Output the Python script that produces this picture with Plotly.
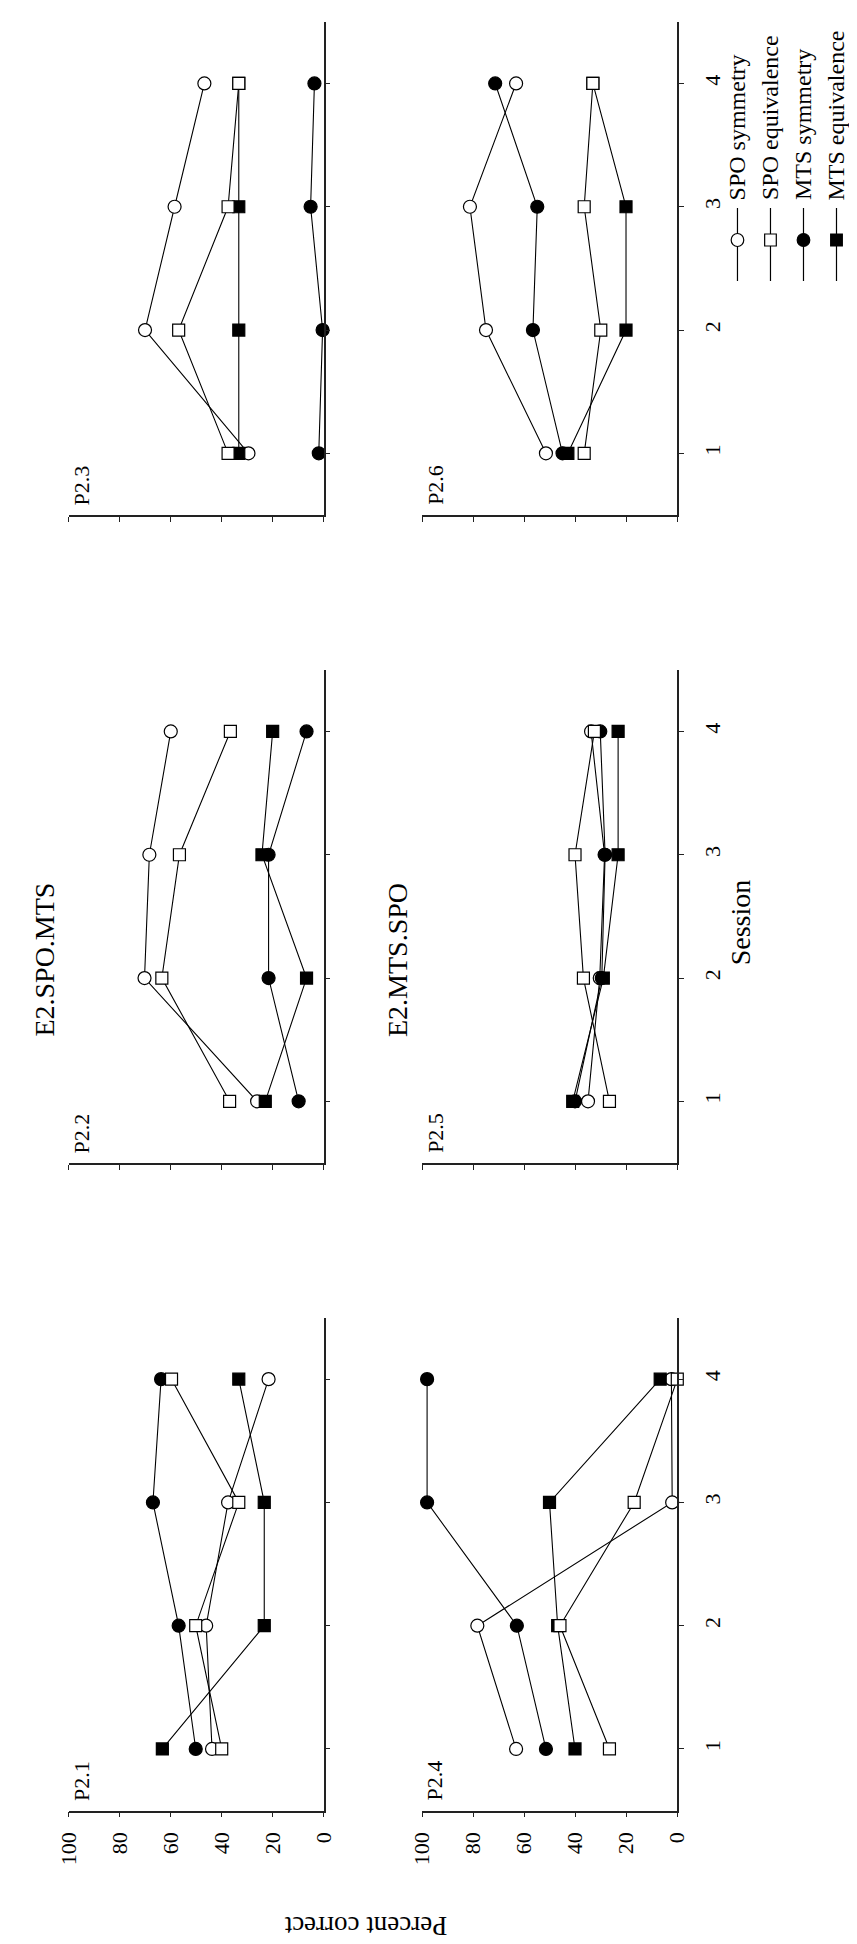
import plotly.graph_objects as go

W, H = 857, 1944

# ---------------- data ----------------
sessions = [1, 2, 3, 4]
series_names = ["SPO symmetry", "SPO equivalence", "MTS symmetry", "MTS equivalence"]
percent_ticks = [0, 20, 40, 60, 80, 100]
panel_labels = ["P2.1", "P2.2", "P2.3", "P2.4", "P2.5", "P2.6"]
group_titles = ["E2.SPO.MTS", "E2.MTS.SPO"]

p21_spo_sym = [43.8, 46.1, 37.5, 21.6]
p21_spo_eq = [40.0, 50.2, 33.3, 59.7]
p21_mts_sym = [50.2, 56.9, 67.0, 63.8]
p21_mts_eq = [63.3, 23.3, 23.3, 33.3]

p22_spo_sym = [26.1, 70.3, 68.4, 60.0]
p22_spo_eq = [36.9, 63.5, 56.6, 36.6]
p22_mts_sym = [9.8, 21.6, 21.6, 6.7]
p22_mts_eq = [22.9, 6.7, 24.2, 20.0]

p23_spo_sym = [29.5, 70.1, 58.5, 46.8]
p23_spo_eq = [37.5, 56.9, 37.5, 33.3]
p23_mts_sym = [1.9, 0.4, 5.1, 3.6]
p23_mts_eq = [33.3, 33.3, 33.3, 33.3]

p24_spo_sym = [63.2, 78.4, 2.0, 2.3]
p24_spo_eq = [26.6, 46.0, 16.9, 0.0]
p24_mts_sym = [51.5, 62.9, 98.1, 98.1]
p24_mts_eq = [40.1, 46.9, 50.1, 6.7]

p25_spo_sym = [35.0, 30.4, 28.5, 33.8]
p25_spo_eq = [26.6, 36.8, 40.1, 32.5]
p25_mts_sym = [40.1, 29.6, 28.3, 30.2]
p25_mts_eq = [41.0, 29.0, 23.2, 23.2]

p26_spo_sym = [51.5, 75.0, 81.3, 63.2]
p26_spo_eq = [36.5, 30.0, 36.5, 33.1]
p26_mts_sym = [45.0, 56.6, 54.9, 71.4]
p26_mts_eq = [42.9, 20.1, 20.1, 33.1]

panel_data = {
    "P2.1": [p21_spo_sym, p21_spo_eq, p21_mts_sym, p21_mts_eq],
    "P2.2": [p22_spo_sym, p22_spo_eq, p22_mts_sym, p22_mts_eq],
    "P2.3": [p23_spo_sym, p23_spo_eq, p23_mts_sym, p23_mts_eq],
    "P2.4": [p24_spo_sym, p24_spo_eq, p24_mts_sym, p24_mts_eq],
    "P2.5": [p25_spo_sym, p25_spo_eq, p25_mts_sym, p25_mts_eq],
    "P2.6": [p26_spo_sym, p26_spo_eq, p26_mts_sym, p26_mts_eq],
}

# ---------------- styling / layout geometry ----------------
FONT = "Liberation Serif, Times New Roman, serif"
AX = "#222222"
styles = {
    "SPO symmetry": dict(symbol="circle", fill="white", size=13),
    "SPO equivalence": dict(symbol="square", fill="white", size=12),
    "MTS symmetry": dict(symbol="circle", fill="black", size=13),
    "MTS equivalence": dict(symbol="square", fill="black", size=12),
}
draw_order = ["SPO symmetry", "MTS equivalence", "MTS symmetry", "SPO equivalence"]

col_px = [(49.3, 311.7), (413.3, 676.0)]          # left/right pixel edges of percent axis
row_px = [(1309.5, 1802.6), (661.8, 1155.0), (13.8, 507.0)]  # top/bottom pixel edges
panel_pos = {"P2.1": (0, 0), "P2.2": (0, 1), "P2.3": (0, 2),
             "P2.4": (1, 0), "P2.5": (1, 1), "P2.6": (1, 2)}


def fx(px):
    return px / W


def fy(py):
    return 1 - py / H


fig = go.Figure()
layout = dict(
    width=W, height=H, autosize=False,
    margin=dict(l=0, r=0, t=0, b=0),
    paper_bgcolor="white", plot_bgcolor="white",
    showlegend=False,
    font=dict(family=FONT, color="black", size=22),
)
annotations = []
shapes = []

for k, label in enumerate(panel_labels, start=1):
    c, r = panel_pos[label]
    x0, x1 = col_px[c]
    y0, y1 = row_px[r]
    xa = "xaxis" if k == 1 else f"xaxis{k}"
    ya = "yaxis" if k == 1 else f"yaxis{k}"
    xr = "x" if k == 1 else f"x{k}"
    yr = "y" if k == 1 else f"y{k}"
    layout[xa] = dict(
        domain=[fx(x0), fx(x1)], range=[100, 0], anchor=yr,
        showline=True, linecolor=AX, linewidth=1.5,
        ticks="outside", ticklen=5, tickwidth=1.3, tickcolor=AX,
        tickvals=percent_ticks, showticklabels=(r == 0), tickangle=-90,
        ticklabelstandoff=6,
        tickfont=dict(family=FONT, size=22, color="black"),
        showgrid=False, zeroline=False, fixedrange=True,
    )
    layout[ya] = dict(
        domain=[fy(y1), fy(y0)], range=[0.5, 4.5], anchor=xr, side="right",
        showline=True, linecolor=AX, linewidth=1.5,
        ticks="outside", ticklen=5, tickwidth=1.3, tickcolor=AX,
        tickvals=sessions, showticklabels=(c == 1), tickangle=-90,
        ticklabelstandoff=10,
        tickfont=dict(family=FONT, size=22, color="black"),
        showgrid=False, zeroline=False, fixedrange=True,
    )
    vals = dict(zip(series_names, panel_data[label]))
    for name in draw_order:
        st = styles[name]
        fig.add_trace(go.Scatter(
            x=vals[name], y=sessions, xaxis=xr, yaxis=yr, name=name,
            mode="lines+markers", cliponaxis=False,
            line=dict(color="black", width=1.1),
            marker=dict(symbol=st["symbol"], size=st["size"], color=st["fill"],
                        line=dict(color="black", width=1.2)),
        ))
    annotations.append(dict(
        text=label, x=fx(x0 + 13), y=fy(y1 - 8), xref="paper", yref="paper",
        xanchor="center", yanchor="bottom", textangle=-90, showarrow=False,
        font=dict(family=FONT, size=22, color="black"),
    ))

# group titles (left of each column)
for c, title in enumerate(group_titles):
    annotations.append(dict(
        text=title, x=fx(col_px[c][0] - 26), y=fy(952), xref="paper", yref="paper",
        xanchor="center", yanchor="middle", textangle=-90, showarrow=False,
        font=dict(family=FONT, size=28, color="black"),
    ))

# axis titles
annotations.append(dict(
    text="Session", x=fx(742), y=fy(914), xref="paper", yref="paper",
    xanchor="center", yanchor="middle", textangle=-90, showarrow=False,
    font=dict(family=FONT, size=28, color="black"),
))
annotations.append(dict(
    text="Percent correct", x=fx(355), y=fy(1918), xref="paper", yref="paper",
    xanchor="center", yanchor="middle", textangle=180, showarrow=False,
    font=dict(family=FONT, size=27, color="black"),
))

# custom rotated legend
leg_x0, leg_dx = 738, 34
leg_text_bottom, leg_line = 194, (200, 273)
leg_marker_y = 232
for i, name in enumerate(series_names):
    cx = leg_x0 + i * leg_dx
    st = styles[name]
    shapes.append(dict(type="line", xref="paper", yref="paper",
                       x0=fx(cx), x1=fx(cx), y0=fy(leg_line[0]), y1=fy(leg_line[1]),
                       line=dict(color="black", width=1.2)))
    half = st["size"] / 2
    shapes.append(dict(type="circle" if st["symbol"] == "circle" else "rect",
                       xref="paper", yref="paper",
                       x0=fx(cx - half), x1=fx(cx + half),
                       y0=fy(leg_marker_y + half), y1=fy(leg_marker_y - half),
                       fillcolor=st["fill"], line=dict(color="black", width=1.2)))
    annotations.append(dict(
        text=name, x=fx(cx), y=fy(leg_text_bottom), xref="paper", yref="paper",
        xanchor="center", yanchor="bottom", textangle=-90, showarrow=False,
        font=dict(family=FONT, size=24, color="black"),
    ))

layout["annotations"] = annotations
layout["shapes"] = shapes
fig.update_layout(**layout)
fig.write_html("out.html")
